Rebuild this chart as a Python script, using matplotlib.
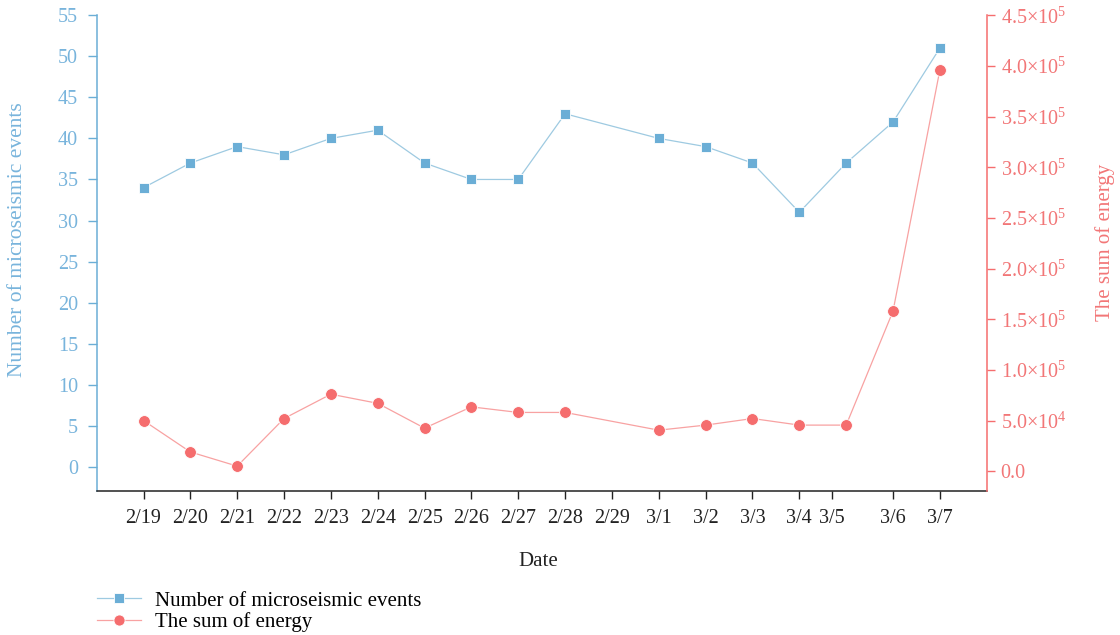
import matplotlib
matplotlib.use("Agg")
import matplotlib.pyplot as plt
from matplotlib.lines import Line2D

plt.rcParams['font.family'] = ['Liberation Serif', 'DejaVu Serif']
plt.rcParams['mathtext.fontset'] = 'custom'
plt.rcParams['mathtext.rm'] = 'Liberation Serif'
plt.rcParams['mathtext.it'] = 'Liberation Serif:italic'

# Day index on the x axis (2/29 has no observation)
date_labels = ['2/19', '2/20', '2/21', '2/22', '2/23', '2/24', '2/25', '2/26', '2/27',
               '2/28', '2/29', '3/1', '3/2', '3/3', '3/4', '3/5', '3/6', '3/7']
tick_pos = [0, 1, 2, 3, 4, 5, 6, 7, 8, 9, 10, 11, 12, 13, 14, 14.7, 16, 17]

obs_x = [0, 1, 2, 3, 4, 5, 6, 7, 8, 9, 11, 12, 13, 14, 15, 16, 17]
events = [34, 37, 39, 38, 40, 41, 37, 35, 35, 43, 40, 39, 37, 31, 37, 42, 51]
energy = [5.0e4, 1.9e4, 0.5e4, 5.2e4, 7.6e4, 6.7e4, 4.25e4, 6.35e4, 5.8e4, 5.8e4,
          4.05e4, 4.55e4, 5.2e4, 4.55e4, 4.55e4, 1.58e5, 3.96e5]

left_ticks = list(range(0, 56, 5))
right_ticks = [0, 5e4, 1e5, 1.5e5, 2e5, 2.5e5, 3e5, 3.5e5, 4e5, 4.5e5]
right_tick_labels = ['0.0', r'$5.0{\times}10^{4}$', r'$1.0{\times}10^{5}$',
                     r'$1.5{\times}10^{5}$', r'$2.0{\times}10^{5}$', r'$2.5{\times}10^{5}$',
                     r'$3.0{\times}10^{5}$', r'$3.5{\times}10^{5}$', r'$4.0{\times}10^{5}$',
                     r'$4.5{\times}10^{5}$']

blue_mk = '#6baed6'
blue_ln = '#9ecae1'
blue_tx = '#78b4dc'
red_mk = '#f56d6e'
red_ln = '#f8a2a2'
red_tx = '#f27677'
fs = 14.5
lfs = 15

fig = plt.figure(figsize=(11.2, 6.35), dpi=100)
ax = fig.add_axes([0.0863, 0.2273, 0.7947, 0.7487])
ax2 = ax.twinx()

ax.plot(obs_x, events, color=blue_ln, lw=0.9, marker='s', ms=7.5,
        mfc=blue_mk, mec='white', mew=0.6, zorder=3)
ax2.plot(obs_x, energy, color=red_ln, lw=0.9, marker='o', ms=8.5,
         mfc=red_mk, mec='white', mew=0.6, zorder=3)

ax.set_xlim(-1, 18)
ax.set_ylim(-2.9, 55)
ax2.set_ylim(-1.92e4, 4.5e5)

ax.set_xticks(tick_pos)
ax.set_xticklabels(date_labels, fontsize=fs, color='#222222')
ax.set_yticks(left_ticks)
ax.set_yticklabels([str(v) for v in left_ticks], fontsize=fs, color=blue_tx)
ax2.set_yticks(right_ticks)
ax2.set_yticklabels(right_tick_labels, fontsize=fs, color=red_tx)

ax.tick_params(axis='x', length=6, width=1, color='#222222', pad=7.5)
ax.tick_params(axis='y', length=6.5, width=1, color=blue_mk, pad=7)
ax2.tick_params(axis='y', length=6, width=1, color=red_mk, pad=4)

for a in (ax, ax2):
    a.spines['top'].set_visible(False)
ax.spines['right'].set_visible(False)
ax2.spines['left'].set_visible(False)
ax2.spines['bottom'].set_visible(False)
ax.spines['left'].set_color(blue_mk)
ax2.spines['right'].set_color(red_mk)
ax.spines['bottom'].set_color('#222222')
for s in (ax.spines['left'], ax2.spines['right'], ax.spines['bottom']):
    s.set_linewidth(1.1)

fig.text(18 / 1120, 1 - 240 / 635, 'Number of microseismic events', rotation=90,
         ha='center', va='center', fontsize=15.5, color=blue_tx)
fig.text(1105 / 1120, 1 - 242 / 635, 'The sum of energy', rotation=90,
         ha='center', va='center', fontsize=15, color=red_tx)
fig.text(538 / 1120, 1 - 561 / 635, 'Date', ha='center', va='center',
         fontsize=lfs, color='#222222')

handles = [
    Line2D([], [], color=blue_ln, lw=0.9, marker='s', ms=7, mfc=blue_mk,
           mec='white', mew=0.6),
    Line2D([], [], color=red_ln, lw=0.9, marker='o', ms=8, mfc=red_mk,
           mec='white', mew=0.6),
]
fig.legend(handles, ['Number of microseismic events', 'The sum of energy'],
           loc='upper left', bbox_to_anchor=(97 / 1120, 1 - 591 / 635),
           frameon=False, fontsize=lfs, handlelength=2.1, handletextpad=0.7,
           labelspacing=0.08, borderpad=0, borderaxespad=0)

fig.savefig('out.png', dpi=100, facecolor='white')
